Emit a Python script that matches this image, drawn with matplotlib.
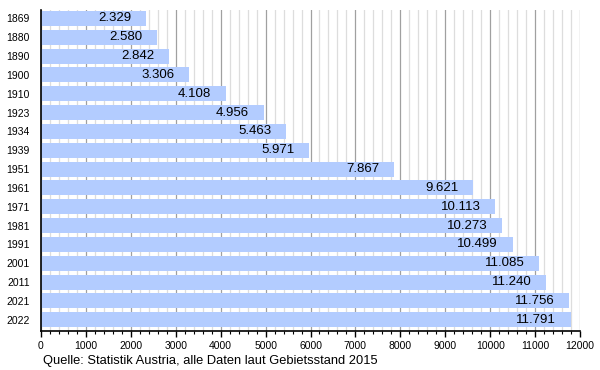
import matplotlib.pyplot as plt
from matplotlib.ticker import MultipleLocator

plt.rcParams['font.family'] = ['Liberation Sans', 'DejaVu Sans']

years = ['1869', '1880', '1890', '1900', '1910', '1923', '1934', '1939', '1951',
         '1961', '1971', '1981', '1991', '2001', '2011', '2021', '2022']
population = [2329, 2580, 2842, 3306, 4108, 4956, 5463, 5971, 7867,
              9621, 10113, 10273, 10499, 11085, 11240, 11756, 11791]
labels = ['2.329', '2.580', '2.842', '3.306', '4.108', '4.956', '5.463', '5.971', '7.867',
          '9.621', '10.113', '10.273', '10.499', '11.085', '11.240', '11.756', '11.791']

fig = plt.figure(figsize=(6, 3.7), dpi=100)
ax = fig.add_axes([41 / 600, 1 - 331 / 370, 539 / 600, 321 / 370])

pos = list(range(len(years)))
ax.barh(pos, population, height=0.8, color='#b3ccff', zorder=2)

# value labels inside the bar end
for p, v, t in zip(pos, population, labels):
    ax.annotate(t, (v, p), xytext=(-10.5, 0), textcoords='offset points',
                ha='right', va='center', fontsize=9.5, color='black', zorder=3)

ax.set_xlim(0, 12000)
ax.set_ylim(len(years) - 1 + 0.6, -0.45)
ax.set_yticks(pos)
ax.set_yticklabels(years)

ax.xaxis.set_major_locator(MultipleLocator(1000))
ax.xaxis.set_minor_locator(MultipleLocator(200))
ax.grid(which='major', axis='x', color='#a0a0a0', linewidth=0.9, zorder=0)
ax.grid(which='minor', axis='x', color='#dddddd', linewidth=0.9, zorder=0)
ax.set_axisbelow(True)

for s in ['top', 'right']:
    ax.spines[s].set_visible(False)
ax.spines['left'].set_linewidth(1.2)
ax.spines['bottom'].set_linewidth(1.2)

ax.tick_params(axis='x', which='major', length=4, width=1, labelsize=7.5, pad=3)
ax.tick_params(axis='x', which='minor', length=2, width=0.8)
ax.tick_params(axis='y', length=0, labelsize=7.5, pad=8)

fig.text(43 / 600, 1 - 361 / 370, 'Quelle: Statistik Austria, alle Daten laut Gebietsstand 2015',
         fontsize=9.3, va='center', ha='left')

fig.savefig('out.png', dpi=100)
